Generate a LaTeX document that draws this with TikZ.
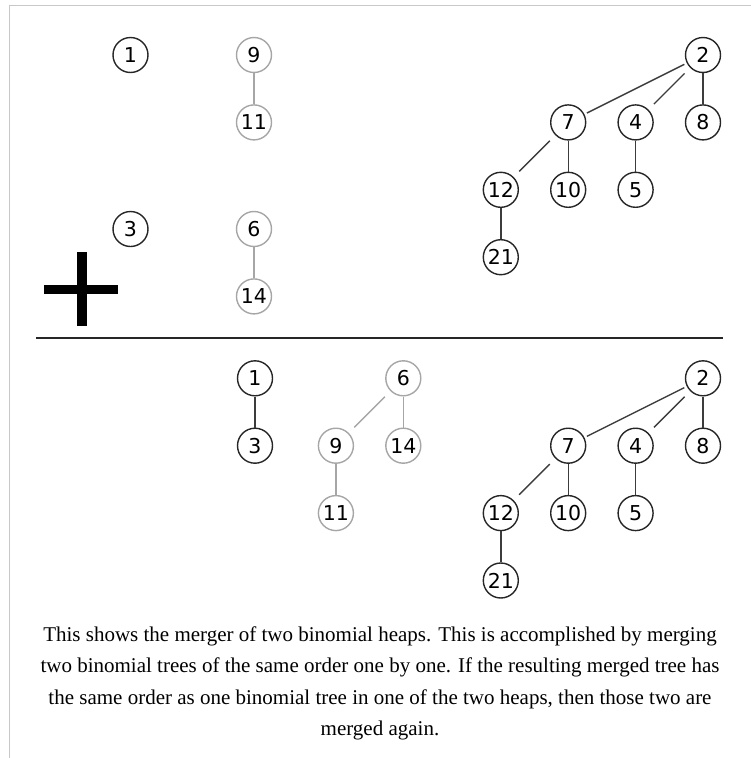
\documentclass[tikz,border=0pt]{standalone}
\usepackage{fontspec}
\setmainfont{Liberation Serif}
\newfontfamily\keyfont{DejaVu Sans}
\usetikzlibrary{positioning}
\definecolor{heapdark}{HTML}{262626}
\definecolor{heaplight}{HTML}{A6A6A6}
\definecolor{framegray}{HTML}{C8C8C8}
\tikzset{
  heapkey/.style={circle, draw=heapdark, line width=1.4pt, minimum size=35pt, inner sep=0pt, font=\keyfont\fontsize{20.5}{20.5}\selectfont},
  heapkeylight/.style={heapkey, draw=heaplight},
  wire/.style={draw=heapdark!90, line width=1.4pt},
  wirelight/.style={draw=heaplight, line width=1.5pt},
  gap/.style={shorten <=#1, shorten >=#1}
}
\begin{document}
\begin{tikzpicture}[x=1pt, y=-1pt, node distance=67.4pt]
\useasboundingbox (0,0) rectangle (751,758);
\draw[framegray, line width=1pt] (9,758) -- (9,5) -- (751,5);
\node[heapkey] (top1) at (130.5,55) {1};
\node[heapkey, below of=top1, yshift=-106.6pt] (top3) {3};
\node[heapkeylight, right of=top1, xshift=56.1pt] (top9) {9};
\node[heapkeylight, below of=top9] (top11) {11};
\node[heapkeylight, right of=top3, xshift=56.1pt] (top6) {6};
\node[heapkeylight, below of=top6] (top14) {14};
\node[heapkey] (top2) at (703,55) {2};
\node[heapkey, below of=top2] (top8) {8};
\node[heapkey, left of=top8] (top4) {4};
\node[heapkey, left of=top4] (top7) {7};
\node[heapkey, below of=top4] (top5) {5};
\node[heapkey, below of=top7] (top10) {10};
\node[heapkey, left of=top10] (top12) {12};
\node[heapkey, below of=top12] (top21) {21};
\fill (77,252) rectangle (87,326);
\fill (44,285) rectangle (118,294);
\draw[heapdark, line width=1.5pt] (36,338) -- (722.5,338);
\node[heapkey] (bot1) at (255,378.3) {1};
\node[heapkey, below of=bot1] (bot3) {3};
\node[heapkeylight, right of=bot1, xshift=80.9pt] (bot6) {6};
\node[heapkeylight, below of=bot6] (bot14) {14};
\node[heapkeylight, left of=bot14] (bot9) {9};
\node[heapkeylight, below of=bot9] (bot11) {11};
\node[heapkey] (bot2) at (703,378.3) {2};
\node[heapkey, below of=bot2] (bot8) {8};
\node[heapkey, left of=bot8] (bot4) {4};
\node[heapkey, left of=bot4] (bot7) {7};
\node[heapkey, below of=bot4] (bot5) {5};
\node[heapkey, below of=bot7] (bot10) {10};
\node[heapkey, left of=bot10] (bot12) {12};
\node[heapkey, below of=bot12] (bot21) {21};
\node[align=center, inner sep=0pt, anchor=north, font=\fontsize{21}{31.5}\selectfont] (caption) at (380,626.5) {This shows the merger of two binomial heaps. This is accomplished by merging\\two binomial trees of the same order one by one. If the resulting merged tree has\\the same order as one binomial tree in one of the two heaps, then those two are\\merged again.};
\draw[wirelight] (top9) -- (top11);
\draw[wirelight] (top6) -- (top14);
\draw[wire, gap=2.7pt] (top2) -- (top7);
\draw[wire, gap=7.8pt] (top2) -- (top4);
\draw[wire] (top2) -- (top8);
\draw[wire, gap=7.8pt] (top7) -- (top12);
\draw[wire] (top7) -- (top10);
\draw[wire] (top4) -- (top5);
\draw[wire] (top12) -- (top21);
\draw[wire] (bot1) -- (bot3);
\draw[wirelight, gap=7.8pt] (bot6) -- (bot9);
\draw[wirelight] (bot6) -- (bot14);
\draw[wirelight] (bot9) -- (bot11);
\draw[wire, gap=2.7pt] (bot2) -- (bot7);
\draw[wire, gap=7.8pt] (bot2) -- (bot4);
\draw[wire] (bot2) -- (bot8);
\draw[wire, gap=7.8pt] (bot7) -- (bot12);
\draw[wire] (bot7) -- (bot10);
\draw[wire] (bot4) -- (bot5);
\draw[wire] (bot12) -- (bot21);
\end{tikzpicture}
\end{document}
